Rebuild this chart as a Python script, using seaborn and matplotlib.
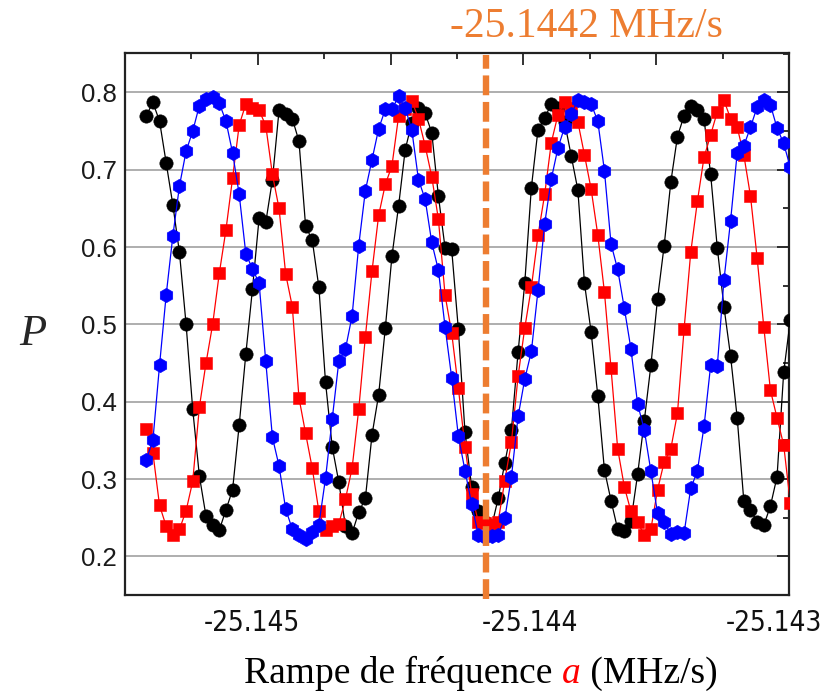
import numpy as np
import pandas as pd
import matplotlib
matplotlib.use("Agg")
import matplotlib.pyplot as plt
import matplotlib.transforms as mtransforms
import seaborn as sns
from matplotlib.ticker import FixedLocator, FixedFormatter
from matplotlib.offsetbox import TextArea, HPacker, AnchoredOffsetbox

# ---------------- data ----------------
# uniform sweep of the frequency ramp a (MHz/s)
x_start = -25.14542
x_step = 0.000025

black_P = [0.770, 0.787, 0.763, 0.709, 0.655, 0.593, 0.500, 0.390, 0.304, 0.252,
           0.241, 0.234, 0.260, 0.286, 0.370, 0.462, 0.546, 0.638, 0.632, 0.687,
           0.777, 0.772, 0.766, 0.737, 0.627, 0.609, 0.548, 0.425, 0.342, 0.296,
           0.239, 0.230, 0.257, 0.275, 0.357, 0.409, 0.495, 0.588, 0.653, 0.726,
           0.761, 0.780, 0.773, 0.748, 0.666, 0.599, 0.597, 0.494, 0.361, 0.290,
           0.258, 0.244, 0.238, 0.275, 0.321, 0.364, 0.464, 0.553, 0.677, 0.752,
           0.767, 0.785, 0.780, 0.762, 0.718, 0.674, 0.553, 0.490, 0.408, 0.312,
           0.272, 0.235, 0.233, 0.246, 0.306, 0.375, 0.447, 0.533, 0.602, 0.684,
           0.743, 0.770, 0.783, 0.777, 0.766, 0.694, 0.599, 0.523, 0.459, 0.379,
           0.271, 0.260, 0.245, 0.240, 0.265, 0.303, 0.438, 0.506]

red_P = [0.365, 0.334, 0.266, 0.239, 0.228, 0.235, 0.259, 0.297, 0.393, 0.450,
         0.500, 0.566, 0.622, 0.689, 0.758, 0.785, 0.780, 0.777, 0.757, 0.694,
         0.650, 0.565, 0.523, 0.405, 0.359, 0.314, 0.258, 0.234, 0.239, 0.242,
         0.274, 0.314, 0.390, 0.484, 0.569, 0.641, 0.681, 0.705, 0.769, 0.778,
         0.789, 0.766, 0.731, 0.691, 0.636, 0.538, 0.489, 0.418, 0.342, 0.281,
         0.245, 0.243, 0.240, 0.245, 0.298, 0.348, 0.433, 0.495, 0.548, 0.615,
         0.668, 0.735, 0.771, 0.787, 0.780, 0.762, 0.719, 0.675, 0.616, 0.542,
         0.443, 0.339, 0.290, 0.258, 0.244, 0.228, 0.235, 0.286, 0.322, 0.339,
         0.385, 0.494, 0.593, 0.659, 0.716, 0.745, 0.775, 0.790, 0.766, 0.755,
         0.719, 0.666, 0.586, 0.497, 0.415, 0.379, 0.344, 0.269]

blue_P = [0.325, 0.350, 0.447, 0.538, 0.614, 0.679, 0.724, 0.750, 0.783, 0.791,
          0.794, 0.786, 0.763, 0.722, 0.668, 0.591, 0.572, 0.553, 0.452, 0.354,
          0.317, 0.261, 0.235, 0.228, 0.222, 0.231, 0.241, 0.301, 0.377, 0.452,
          0.468, 0.511, 0.602, 0.673, 0.713, 0.753, 0.778, 0.778, 0.795, 0.780,
          0.751, 0.687, 0.662, 0.606, 0.570, 0.497, 0.431, 0.356, 0.311, 0.268,
          0.228, 0.225, 0.226, 0.228, 0.249, 0.303, 0.381, 0.429, 0.465, 0.544,
          0.630, 0.688, 0.728, 0.755, 0.772, 0.790, 0.787, 0.785, 0.763, 0.699,
          0.604, 0.571, 0.521, 0.468, 0.397, 0.364, 0.310, 0.256, 0.244, 0.229,
          0.232, 0.230, 0.288, 0.310, 0.368, 0.447, 0.446, 0.557, 0.634, 0.722,
          0.731, 0.755, 0.781, 0.790, 0.784, 0.754, 0.734, 0.703]

x_label_ticks = [-25.145, -25.144, -25.143]
x_tick_labels = ["-25.145", "-25.144", "-25.143"]
x_major_ticks = [-25.145, -25.1445, -25.144, -25.1435, -25.143]
x_minor_ticks = [-25.14525, -25.14475, -25.14425, -25.14375, -25.14325]
y_major_ticks = [0.2, 0.3, 0.4, 0.5, 0.6, 0.7, 0.8]
y_minor_ticks = [0.25, 0.35, 0.45, 0.55, 0.65, 0.75, 0.85]
marker_rate = -25.14414
marker_label = "-25.1442 MHz/s"

# ---------------- table ----------------
n = len(black_P)
rate = x_start + x_step * np.arange(n)
df = pd.concat([
    pd.DataFrame({"rate": rate, "P": black_P, "series": "black"}),
    pd.DataFrame({"rate": rate, "P": red_P, "series": "red"}),
    pd.DataFrame({"rate": rate, "P": blue_P, "series": "blue"}),
], ignore_index=True)

sns.set_style("white")
plt.rcParams["font.family"] = ["Liberation Sans", "DejaVu Sans"]

fig = plt.figure(figsize=(8.25, 6.95), dpi=100)
ax = fig.add_axes([125 / 825, 1 - 595 / 695, 664 / 825, 542 / 695])

styles = [("black", "#000000", "o", 9.6, 3),
          ("red", "#ff0000", "s", 8.2, 4),
          ("blue", "#0000ff", "h", 10.4, 5)]
for name, color, mk, ms, z in styles:
    sub = df[df["series"] == name]
    sns.lineplot(data=sub, x="rate", y="P", ax=ax, color=color, marker=mk,
                 markersize=ms, markeredgewidth=0.4, markeredgecolor=color,
                 linewidth=0.9, sort=False, estimator=None, zorder=z)

ax.axvline(marker_rate, ymin=-0.008, ymax=0.997, color="#ED7D31", linewidth=4.6,
           dashes=(3.1, 1.05), clip_on=False, zorder=6)

ax.set_xlim(-25.1455, -25.143)
ax.set_ylim(0.15, 0.851)

ax.xaxis.set_major_locator(FixedLocator(x_major_ticks))
maj_labels = [x_tick_labels[x_label_ticks.index(v)] if v in x_label_ticks else ""
              for v in x_major_ticks]
ax.xaxis.set_major_formatter(FixedFormatter(maj_labels))
ax.xaxis.set_minor_locator(FixedLocator(x_minor_ticks))
ax.yaxis.set_major_locator(FixedLocator(y_major_ticks))
ax.yaxis.set_major_formatter(FixedFormatter([f"{v:.1f}" for v in y_major_ticks]))
ax.yaxis.set_minor_locator(FixedLocator(y_minor_ticks))

ax.tick_params(which="both", direction="in", top=True, right=True, color="#222222")
ax.tick_params(which="major", length=8.5, width=1.3)
ax.tick_params(which="minor", length=4.5, width=1.3)
ax.tick_params(axis="y", which="major", labelsize=18.5, pad=6, labelcolor="#1a1a1a")
ax.tick_params(axis="x", which="major", labelsize=20, pad=10, labelcolor="#111111")

# the reference's pasted-on labels sit slightly off their ticks
label_shift_px = {"-25.145": -6, "-25.144": 7, "-25.143": -15}
for lab in ax.get_xticklabels():
    lab.set_family(["DejaVu Sans"])
    lab.set_fontstretch("condensed")
    shift = label_shift_px.get(lab.get_text(), 0)
    lab.set_transform(lab.get_transform() +
                      mtransforms.ScaledTranslation(shift / 100, 0, fig.dpi_scale_trans))

ax.grid(axis="y", which="major", color="#a8a8a8", linewidth=1.3)
ax.grid(axis="x", visible=False)
for sp in ax.spines.values():
    sp.set_color("#222222")
    sp.set_linewidth(1.6)
ax.set_xlabel("")
ax.set_ylabel("")

fig.text(586 / 825, 1 - 37 / 695, marker_label, ha="center", va="baseline",
         color="#ED7D31", fontsize=30, family=["Liberation Serif", "DejaVu Serif"])
fig.text(33 / 825, 1 - 345 / 695, "P", ha="center", va="baseline", fontsize=32,
         style="italic", family=["Liberation Serif", "DejaVu Serif"])

serif = ["Liberation Serif", "DejaVu Serif"]
parts = [
    TextArea("Rampe de fréquence ", textprops=dict(fontsize=27, family=serif, color="black")),
    TextArea("a", textprops=dict(fontsize=27, family=serif, style="italic", color="#ff0000")),
    TextArea(" (MHz/s)", textprops=dict(fontsize=27, family=serif, color="black")),
]
box = HPacker(children=parts, align="baseline", pad=0, sep=0)
anchored = AnchoredOffsetbox(loc="center", child=box, pad=0, frameon=False,
                             bbox_to_anchor=(481 / 825, 1 - 673 / 695),
                             bbox_transform=fig.transFigure, borderpad=0)
fig.add_artist(anchored)

fig.savefig("out.png", dpi=100)
